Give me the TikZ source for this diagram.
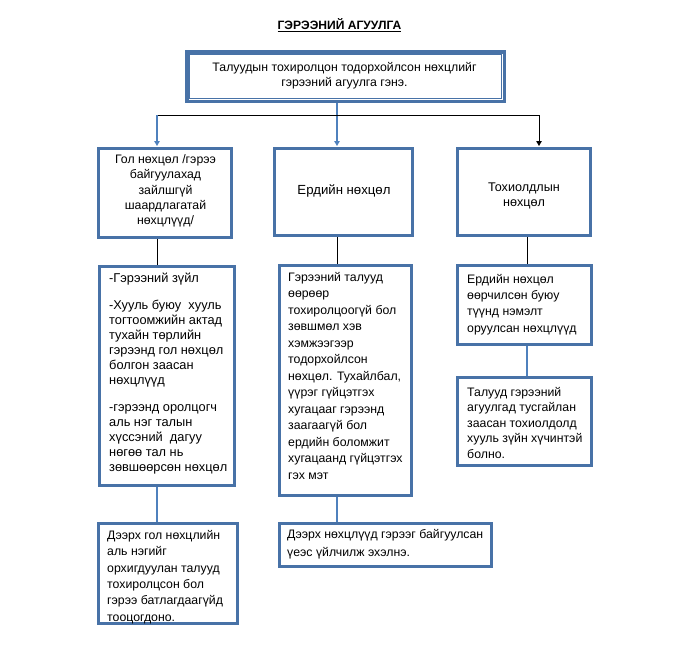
\documentclass[tikz,border=0pt]{standalone}
\usepackage{fontspec}
\setmainfont{Liberation Sans}
\usetikzlibrary{arrows.meta,calc}
\definecolor{boxblue}{RGB}{72,114,167}
\definecolor{lineblue}{RGB}{79,129,189}
\begin{document}
\begin{tikzpicture}[x=1pt,y=1pt,
  box/.style={draw=boxblue, line width=3pt, fill=white, inner sep=0pt},
  txt/.style={font=\fontsize{12.3}{#1}\selectfont, inner sep=0pt, align=left, anchor=north west},
  ctxt/.style={font=\fontsize{12.3}{#1}\selectfont, inner sep=0pt, align=center},
  bline/.style={draw=lineblue, line width=1.2pt},
  kline/.style={draw=black, line width=1pt},
  arrowtip/.style={-{Triangle[length=5pt,width=5.5pt]}, shorten >=1pt}]
\useasboundingbox (0,0) rectangle (678,-672);
% title
\node[font=\bfseries\fontsize{12.1}{14}\selectfont, inner sep=0pt] (title) at (339.5,-25) {\underline{ГЭРЭЭНИЙ АГУУЛГА}};
% boxes
\node[box, line width=3.5pt, minimum width=317.5pt, minimum height=49.5pt] (top) at (345.5,-76.5) {};
\draw[draw=boxblue, line width=0.8pt] ($(top.north west)+(4.2,-4.2)$) rectangle ($(top.south east)+(-4.2,4.2)$);
\node[ctxt=14.5] (topt) at (344.5,-75.5) {Талуудын тохиролцон тодорхойлсон нөхцлийг\\гэрээний агуулга гэнэ.};

\node[box, minimum width=133pt, minimum height=89pt] (L2) at (165,-193) {};
\node[ctxt=15.3] (L2t) at (165.5,-191) {Гол нөхцөл /гэрээ\\байгуулахад\\зайлшгүй\\шаардлагатай\\нөхцлүүд/};
\node[box, minimum width=138pt, minimum height=87pt] (M2) at (343.5,-192) {};
\node[ctxt=15, font=\fontsize{13.2}{15}\selectfont] (M2t) at (344,-191) {Ердийн нөхцөл};
\node[box, minimum width=133pt, minimum height=87pt] (R2) at (524,-192) {};
\node[ctxt=15.5, font=\fontsize{12.6}{15.5}\selectfont] (R2t) at (524,-196) {Тохиолдлын\\нөхцөл};

\node[box, minimum width=135pt, minimum height=219pt] (L3) at (167,-376) {};
\node[txt=15, font=\fontsize{12.8}{15}\selectfont] (L3t) at (109,-273) {-Гэрээний зүйл\\[12pt]-Хууль буюу~ хууль\\тогтоомжийн актад\\тухайн төрлийн\\гэрээнд гол нөхцөл\\болгон заасан\\нөхцлүүд\\[12pt]-гэрээнд оролцогч\\аль нэг талын\\хүссэний~ дагуу\\нөгөө тал нь\\зөвшөөрсөн нөхцөл};
\node[box, minimum width=132pt, minimum height=230pt] (M3) at (345.5,-380.5) {};
\node[txt=16.5] (M3t) at (288,-272) {Гэрээний талууд\\өөрөөр\\тохиролцоогүй бол\\зөвшмөл хэв\\хэмжээгээр\\тодорхойлсон\\нөхцөл. Тухайлбал,\\үүрэг гүйцэтгэх\\хугацааг гэрээнд\\заагаагүй бол\\ердийн боломжит\\хугацаанд гүйцэтгэх\\гэх мэт};
\node[box, minimum width=134pt, minimum height=79pt] (R3) at (524.5,-305) {};
\node[txt=16.3] (R3t) at (467,-274) {Ердийн нөхцөл\\өөрчилсөн буюу\\түүнд нэмэлт\\оруулсан нөхцлүүд};
\node[box, minimum width=134pt, minimum height=88pt] (R4) at (524.5,-421.5) {};
\node[txt=15.5] (R4t) at (467,-387) {Талууд гэрээний\\агуулгад тусгайлан\\заасан тохиолдолд\\хууль зүйн хүчинтэй\\болно.};

\node[box, minimum width=139pt, minimum height=100pt] (L4) at (168,-573.5) {};
\node[txt=16.4] (L4t) at (107,-530) {Дээрх гол нөхцлийн\\аль нэгийг\\орхигдуулан талууд\\тохиролцсон бол\\гэрээ батлагдаагүйд\\тооцогдоно.};
\node[box, minimum width=212pt, minimum height=43pt] (M4) at (385.5,-545) {};
\node[txt=18] (M4t) at (287,-529) {Дээрх нөхцлүүд гэрээг байгуулсан\\үеэс үйлчилж эхэлнэ.};

% connector x positions
\coordinate (xl) at (157,0);
\coordinate (xm) at (337,0);
\coordinate (xr) at (539,0);
\coordinate (xr2) at (527,0);
\coordinate (hy) at (0,-115);

\draw[bline, arrowtip] (top.south -| xm) -- (M2.north -| xm);
\draw[kline] (hy -| xl) -- (hy -| xr);
\draw[bline, arrowtip] (hy -| xl) -- (L2.north -| xl);
\draw[kline, arrowtip] (hy -| xr) -- (R2.north -| xr);

\draw[kline] (L2.south -| xl) -- (L3.north -| xl);
\draw[kline] (M2.south -| xm) -- (M3.north -| xm);
\draw[kline] (R2.south -| xr2) -- (R3.north -| xr2);

\draw[bline] (L3.south -| xl) -- (L4.north -| xl);
\draw[bline] (M3.south -| xm) -- (M4.north -| xm);
\draw[bline] (R3.south -| xr2) -- (R4.north -| xr2);
\end{tikzpicture}
\end{document}
